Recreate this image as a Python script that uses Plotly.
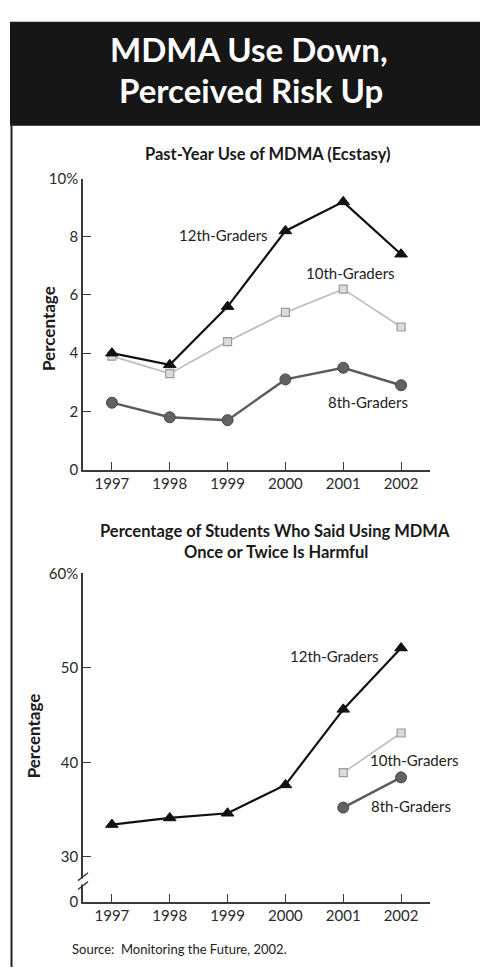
import plotly.graph_objects as go

# ---------------- data ----------------
years = [1997, 1998, 1999, 2000, 2001, 2002]

use_12th = [4.0, 3.6, 5.6, 8.2, 9.2, 7.4]
use_10th = [3.9, 3.3, 4.4, 5.4, 6.2, 4.9]
use_8th = [2.3, 1.8, 1.7, 3.1, 3.5, 2.9]

harm_years_12th = [1997, 1998, 1999, 2000, 2001, 2002]
harm_12th = [33.4, 34.1, 34.6, 37.6, 45.6, 52.1]
harm_years_short = [2001, 2002]
harm_10th = [38.9, 43.1]
harm_8th = [35.2, 38.4]

y1_ticks = [0, 2, 4, 6, 8, 10]
y1_labels = ["0", "2", "4", "6", "8", "10%"]
y2_ticks = [25.25, 30, 40, 50, 60]
y2_labels = ["0", "30", "40", "50", "60%"]

# ---------------- helpers ----------------
W, H = 480, 975
FONT = "Lato"


def px(x):
    return x / W


def py(y):
    return 1 - y / H


s12 = dict(mode="lines+markers", line=dict(color="#111111", width=2.2),
           marker=dict(symbol="triangle-up", size=11, color="#111111",
                       line=dict(color="#111111", width=1)))
s10 = dict(mode="lines+markers", line=dict(color="#bdbdbd", width=1.6),
           marker=dict(symbol="square", size=8, color="#dcdcdc",
                       line=dict(color="#9a9a9a", width=1.2)))
s8 = dict(mode="lines+markers", line=dict(color="#5c5c5c", width=2.4),
          marker=dict(symbol="circle", size=11, color="#626262",
                      line=dict(color="#474747", width=1)))

fig = go.Figure()
# Chart 1
fig.add_trace(go.Scatter(x=years, y=use_10th, xaxis="x", yaxis="y", **s10))
fig.add_trace(go.Scatter(x=years, y=use_8th, xaxis="x", yaxis="y", **s8))
fig.add_trace(go.Scatter(x=years, y=use_12th, xaxis="x", yaxis="y", **s12))
# Chart 2
fig.add_trace(go.Scatter(x=harm_years_short, y=harm_10th, xaxis="x2", yaxis="y2", **s10))
fig.add_trace(go.Scatter(x=harm_years_short, y=harm_8th, xaxis="x2", yaxis="y2", **s8))
fig.add_trace(go.Scatter(x=harm_years_12th, y=harm_12th, xaxis="x2", yaxis="y2", **s12))

axis_common = dict(showline=True, linecolor="#3a3a3a", linewidth=1.6,
                   ticks="inside", ticklen=8, tickwidth=1.4, tickcolor="#3a3a3a",
                   showgrid=False, zeroline=False,
                   tickfont=dict(family=FONT, size=15, color="#2a2a2a"))

x_dom = [px(83), px(430)]
fig.update_layout(
    width=W, height=H,
    margin=dict(l=0, r=0, t=0, b=0),
    paper_bgcolor="white", plot_bgcolor="white",
    showlegend=False,
    xaxis=dict(domain=x_dom, range=[1996.5, 2002.5], anchor="y",
               tickvals=years, ticktext=[str(y) for y in years], **axis_common),
    yaxis=dict(domain=[py(468.3), py(171.7)], range=[0, 10], anchor="x",
               tickvals=y1_ticks, ticktext=y1_labels, **axis_common),
    xaxis2=dict(domain=x_dom, range=[1996.5, 2002.5], anchor="y2",
                tickvals=years, ticktext=[str(y) for y in years], **axis_common),
    yaxis2=dict(domain=[py(908.3), py(574)], range=[25.25, 60], anchor="x2",
                tickvals=y2_ticks, ticktext=y2_labels, **axis_common),
)

shapes = [
    # header block
    dict(type="rect", xref="paper", yref="paper", x0=px(10), x1=1.0,
         y0=py(118), y1=py(12), fillcolor="#161616", line=dict(width=0), layer="below"),
    # left frame line
    dict(type="line", xref="paper", yref="paper", x0=px(11.5), x1=px(11.5),
         y0=0, y1=py(115), line=dict(color="#222222", width=2)),
    # axis break: white gap
    dict(type="rect", xref="paper", yref="paper", x0=px(80), x1=px(86),
         y0=py(891), y1=py(885), fillcolor="white", line=dict(width=0), layer="above"),
    dict(type="line", xref="paper", yref="paper", x0=px(78), x1=px(88),
         y0=py(887), y1=py(879), line=dict(color="#3a3a3a", width=1.4)),
    dict(type="line", xref="paper", yref="paper", x0=px(78), x1=px(88),
         y0=py(896), y1=py(888), line=dict(color="#3a3a3a", width=1.4)),
]
fig.update_layout(shapes=shapes)

ann = []


def text(x, y, t, size, bold=False, color="#1a1a1a", xanchor="center", angle=0):
    ann.append(dict(xref="paper", yref="paper", x=px(x), y=py(y), text=("<b>%s</b>" % t) if bold else t,
                    showarrow=False, xanchor=xanchor, yanchor="middle", textangle=angle,
                    font=dict(family=FONT, size=size, color=color)))


# header
text(249, 40, "MDMA Use Down,", 33, bold=True, color="white")
text(251, 82, "Perceived Risk Up", 33, bold=True, color="white")
# chart titles
text(268, 147, "Past-Year Use of MDMA (Ecstasy)", 16.5, bold=True)
text(275, 531, "Percentage of Students Who Said Using MDMA", 16.5, bold=True)
text(276, 552, "Once or Twice Is Harmful", 16.5, bold=True)
# axis titles
text(49, 325, "Percentage", 17, bold=True, angle=-90)
text(33, 740, "Percentage", 17, bold=True, angle=-90)
# series labels chart 1
text(223, 229, "12th-Graders", 15, color="#222222")
text(350, 268, "10th-Graders", 15, color="#222222")
text(368, 399, "8th-Graders", 15, color="#222222")
# series labels chart 2
text(334, 658, "12th-Graders", 15, color="#222222")
text(414, 764, "10th-Graders", 15, color="#222222")
text(411, 811, "8th-Graders", 15, color="#222222")
# source
text(70, 957, "Source:&nbsp;&nbsp;Monitoring the Future, 2002.", 13, color="#222222", xanchor="left")

fig.update_layout(annotations=ann)

fig.write_html("out.html",
               config={"displayModeBar": False},
               post_script="document.body.style.margin='0';document.body.style.overflow='hidden';")
